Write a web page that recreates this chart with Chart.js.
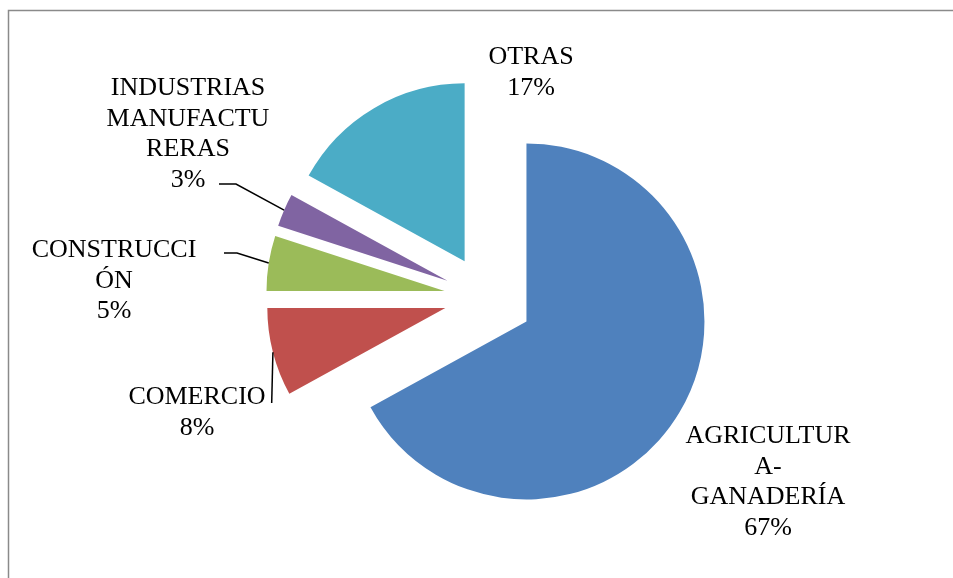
<!DOCTYPE html>
<html>
<head>
<meta charset="utf-8">
<script src="https://cdn.jsdelivr.net/npm/chart.js@4"></script>
<style>
html,body{margin:0;padding:0;background:#fff;}
#wrap{width:953px;height:578px;position:relative;}
canvas{display:block;}
</style>
</head>
<body>
<div id="wrap"><canvas id="c" width="953" height="578"></canvas></div>
<script>
// ---- data ----
const categories = ['AGRICULTURA-GANADERÍA', 'COMERCIO', 'CONSTRUCCIÓN', 'INDUSTRIAS MANUFACTURERAS', 'OTRAS'];
const values = [67, 8, 5, 3, 17];
const labelLines = [['AGRICULTUR', 'A-', 'GANADERÍA'], ['COMERCIO'], ['CONSTRUCCI', 'ÓN'], ['INDUSTRIAS', 'MANUFACTU', 'RERAS'], ['OTRAS']];
const percentLabels = ['67%', '8%', '5%', '3%', '17%'];

// ---- style / layout ----
const colors = ['#4F81BD', '#C0504D', '#9BBB59', '#8064A2', '#4BACC6'];
const explodeDist = [47, 42, 42, 42, 42];
const FONT = '26px "Liberation Serif", "Times New Roman", serif';
const LINE_H = 30.7;
// label anchor: centre x, first baseline y
const labelPos = [
  {x: 768, y: 443},
  {x: 197, y: 404},
  {x: 114, y: 257},
  {x: 188, y: 95},
  {x: 531, y: 64}
];
// leader line start points (null = no leader)
const leaderStart = [
  null,
  [[271.7, 403]],
  [[224, 253], [237, 253]],
  [[219, 184], [236, 184]],
  null
];

function shiftedCenter(el, i) {
  const mid = (el.startAngle + el.endAngle) / 2;
  return {x: el.x + Math.cos(mid) * explodeDist[i], y: el.y + Math.sin(mid) * explodeDist[i], mid};
}

const framePlugin = {
  id: 'frame',
  beforeDraw(chart) {
    const ctx = chart.ctx;
    ctx.save();
    ctx.fillStyle = '#fff';
    ctx.fillRect(0, 0, chart.width, chart.height);
    ctx.strokeStyle = '#8a8a8a';
    ctx.lineWidth = 1.5;
    ctx.beginPath();
    ctx.moveTo(8.5, chart.height);
    ctx.lineTo(8.5, 10.5);
    ctx.lineTo(chart.width, 10.5);
    ctx.stroke();
    ctx.restore();
  }
};

const explodePlugin = {
  id: 'explode',
  beforeDatasetDraw(chart, args) {
    args.meta.data.forEach((el, i) => {
      el._ox = el.x; el._oy = el.y;
      const c = shiftedCenter(el, i);
      el.x = c.x; el.y = c.y;
    });
  },
  afterDatasetDraw(chart, args) {
    args.meta.data.forEach((el) => {
      el.x = el._ox; el.y = el._oy;
    });
  }
};

const labelPlugin = {
  id: 'sliceLabels',
  afterDraw(chart) {
    const ctx = chart.ctx;
    const meta = chart.getDatasetMeta(0);
    ctx.save();
    ctx.font = FONT;
    ctx.fillStyle = '#000';
    ctx.textAlign = 'center';
    ctx.textBaseline = 'alphabetic';
    meta.data.forEach((el, i) => {
      const lines = labelLines[i].concat([percentLabels[i]]);
      const p = labelPos[i];
      lines.forEach((t, k) => ctx.fillText(t, p.x, p.y + k * LINE_H));
      const ls = leaderStart[i];
      if (ls) {
        const c = shiftedCenter(el, i);
        const r = el.outerRadius;
        const ex = c.x + Math.cos(c.mid) * r;
        const ey = c.y + Math.sin(c.mid) * r;
        ctx.strokeStyle = '#000';
        ctx.lineWidth = 1.5;
        ctx.beginPath();
        ctx.moveTo(ls[0][0], ls[0][1]);
        for (let k = 1; k < ls.length; k++) ctx.lineTo(ls[k][0], ls[k][1]);
        ctx.lineTo(ex, ey);
        ctx.stroke();
      }
    });
    ctx.restore();
  }
};

new Chart(document.getElementById('c'), {
  type: 'pie',
  data: {
    labels: categories,
    datasets: [{
      data: values,
      backgroundColor: colors,
      borderWidth: 0,
      radius: 178
    }]
  },
  options: {
    responsive: false,
    animation: false,
    events: [],
    radius: 178,
    rotation: 0,
    layout: {padding: {left: 19, top: 17, right: 0, bottom: 0}},
    plugins: {legend: {display: false}, tooltip: {enabled: false}}
  },
  plugins: [framePlugin, explodePlugin, labelPlugin]
});
</script>
</body>
</html>
